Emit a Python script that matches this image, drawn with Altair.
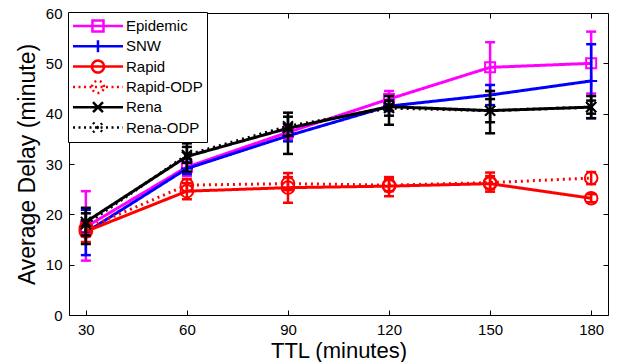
import altair as alt
import pandas as pd

# ---------------- data ----------------
ttl = [30, 60, 90, 120, 150, 180]
series_names = ["Epidemic", "SNW", "Rapid", "Rapid-ODP", "Rena", "Rena-ODP"]

epidemic = [17.5, 29.4, 36.3, 42.9, 49.2, 50.0]
epidemic_lo = [10.8, 27.6, 35.0, 41.3, 44.5, 44.0]
epidemic_hi = [24.6, 31.0, 37.6, 44.5, 54.2, 56.3]

snw = [16.4, 29.1, 35.6, 41.5, 43.7, 46.5]
snw_lo = [11.9, 28.0, 34.5, 40.5, 41.7, 39.1]
snw_hi = [20.9, 30.3, 36.8, 42.6, 45.7, 53.8]

rapid = [16.6, 24.6, 25.3, 25.6, 26.1, 23.2]
rapid_lo = [14.5, 23.0, 22.3, 23.6, 24.5, 22.4]
rapid_hi = [18.6, 26.2, 28.2, 27.4, 28.3, 24.0]

rapid_odp = [17.2, 25.8, 26.1, 25.8, 26.3, 27.2]
rapid_odp_lo = [15.6, 24.6, 24.8, 24.6, 25.0, 26.0]
rapid_odp_hi = [18.8, 27.0, 27.4, 27.0, 27.6, 28.4]

rena = [18.5, 31.5, 37.1, 41.4, 40.6, 41.3]
rena_lo = [14.1, 28.5, 32.0, 37.8, 36.1, 39.1]
rena_hi = [21.3, 34.1, 40.2, 43.5, 44.5, 43.5]

rena_odp = [18.0, 31.8, 37.5, 41.1, 40.6, 41.3]
rena_odp_lo = [15.8, 30.2, 35.6, 39.6, 38.3, 40.0]
rena_odp_hi = [20.2, 33.4, 39.4, 42.6, 42.9, 42.6]

y_ticks = [0, 10, 20, 30, 40, 50, 60]

# ---------------- styles ----------------
colors = ["#ff00ff", "#0000ff", "#ff0000", "#ff0000", "#000000", "#000000"]
dotted = [2, 4]
solid = [1, 0]
line_dash = [solid, solid, solid, dotted, solid, dotted]
plot_shapes = [
    "square",
    "M-1,0H1M0,-1V1",
    "circle",
    "circle",
    "M-1,-1L1,1M-1,1L1,-1",
    "M-1,-1L1,1M-1,1L1,-1",
]
plot_sizes = [100, 144, 160, 160, 100, 100]

# legend symbols: line segment plus marker (custom paths)
L0, L1, C = -1.06, 5.19, 2.06
line_seg = f"M{L0},0H{L1}"
sq, pl, ci, xx = 0.69, 0.75, 0.75, 0.62
circle_path = f"M{C+ci},0A{ci},{ci} 0 1,0 {C-ci},0A{ci},{ci} 0 1,0 {C+ci},0"
x_path = f"M{C-xx},-{xx}L{C+xx},{xx}M{C-xx},{xx}L{C+xx},-{xx}"
legend_shapes = [
    line_seg + f"M{C-sq},-{sq}H{C+sq}V{sq}H{C-sq}Z",
    line_seg + f"M{C},-{pl}V{pl}",
    line_seg + circle_path,
    line_seg + circle_path,
    line_seg + x_path,
    line_seg + x_path,
]
legend_dash = [solid, solid, solid, [2, 3.5], solid, [2, 3.5]]

FONT = "Liberation Sans"

means = [epidemic, snw, rapid, rapid_odp, rena, rena_odp]
los = [epidemic_lo, snw_lo, rapid_lo, rapid_odp_lo, rena_lo, rena_odp_lo]
his = [epidemic_hi, snw_hi, rapid_hi, rapid_odp_hi, rena_hi, rena_odp_hi]

rows = []
for name, m, lo, hi in zip(series_names, means, los, his):
    for t, a, b, c in zip(ttl, m, lo, hi):
        rows.append({"series": name, "ttl": t, "delay": a, "lo": b, "hi": c})
df = pd.DataFrame(rows)

x_scale = alt.Scale(domain=[25, 185], nice=False, zero=False)
y_scale = alt.Scale(domain=[0, 60], nice=False, zero=False)
color_scale = alt.Scale(domain=series_names, range=colors)

common_axis = dict(domain=False, grid=False, tickColor="black", tickWidth=1,
                   offset=-5, tickSize=5)
x_main_axis = alt.Axis(values=ttl, title="TTL (minutes)", orient="bottom",
                       labelFontSize=15, labelPadding=7, labelFont=FONT,
                       labelColor="black", titleFontSize=22, titlePadding=3,
                       titleFont=FONT, titleFontWeight="normal",
                       titleColor="black", **common_axis)
y_main_axis = alt.Axis(values=y_ticks, title="Average Delay (minute)", orient="left",
                       labelFontSize=15, labelPadding=7, labelFont=FONT,
                       labelColor="black", titleFontSize=23, titlePadding=6,
                       titleFont=FONT, titleFontWeight="normal",
                       titleColor="black", **common_axis)
x_top_axis = alt.Axis(values=ttl, title=None, orient="top", labels=False, **common_axis)
y_right_axis = alt.Axis(values=y_ticks, title=None, orient="right", labels=False, **common_axis)

leg = alt.Legend(
    title=None, orient="none", legendX=-1, legendY=-1,
    labelFont=FONT, labelFontSize=15, labelColor="black", labelOffset=35,
    symbolSize=256, symbolStrokeWidth=2.5, symbolFillColor="transparent",
    clipHeight=20, rowPadding=0.3, padding=4,
    strokeColor="black", fillColor="white", cornerRadius=0,
)
legend_layer = alt.Chart(df).transform_filter("false").mark_point(
    filled=False, opacity=1, strokeWidth=2.5
).encode(
    x=alt.X("ttl:Q", scale=x_scale, axis=x_top_axis),
    y=alt.Y("delay:Q", scale=y_scale, axis=y_right_axis),
    color=alt.Color("series:N", scale=color_scale, legend=leg),
    shape=alt.Shape("series:N", scale=alt.Scale(domain=series_names, range=legend_shapes), legend=leg),
    strokeDash=alt.StrokeDash("series:N", scale=alt.Scale(domain=series_names, range=legend_dash), legend=leg),
)

layers = [legend_layer]
first = True
for i, name in enumerate(series_names):
    base = alt.Chart(df).transform_filter(alt.datum.series == name)
    col = alt.value(colors[i])
    xa = x_main_axis if first else None
    ya = y_main_axis if first else None
    first = False
    line = base.mark_line(strokeWidth=3, strokeDash=line_dash[i]).encode(
        x=alt.X("ttl:Q", scale=x_scale, axis=xa),
        y=alt.Y("delay:Q", scale=y_scale, axis=ya),
        color=col,
    )
    err = base.mark_rule(strokeWidth=2.5).encode(
        x=alt.X("ttl:Q", scale=x_scale, axis=None),
        y=alt.Y("lo:Q", scale=y_scale, axis=None),
        y2="hi:Q",
        color=col,
    )
    caps = base.transform_fold(["lo", "hi"], as_=["bound", "v"]).mark_tick(
        orient="horizontal", size=10, thickness=2.5, opacity=1
    ).encode(
        x=alt.X("ttl:Q", scale=x_scale, axis=None),
        y=alt.Y("v:Q", scale=y_scale, axis=None),
        color=col,
    )
    pts = base.mark_point(filled=False, opacity=1, strokeWidth=2).encode(
        x=alt.X("ttl:Q", scale=x_scale, axis=None),
        y=alt.Y("delay:Q", scale=y_scale, axis=None),
        color=col,
        shape=alt.value(plot_shapes[i]),
        size=alt.value(plot_sizes[i]),
    )
    layers += [err, caps, line, pts]

chart = alt.layer(*layers).resolve_axis(
    x="independent", y="independent"
).properties(
    width=539, height=302,
    autosize=alt.AutoSizeParams(type="none"),
    padding={"left": 69, "top": 13, "right": 13, "bottom": 47},
    background="white",
).configure_view(stroke="black", strokeWidth=1)

chart.save("out.html", embed_options={"renderer": "svg", "actions": False})
